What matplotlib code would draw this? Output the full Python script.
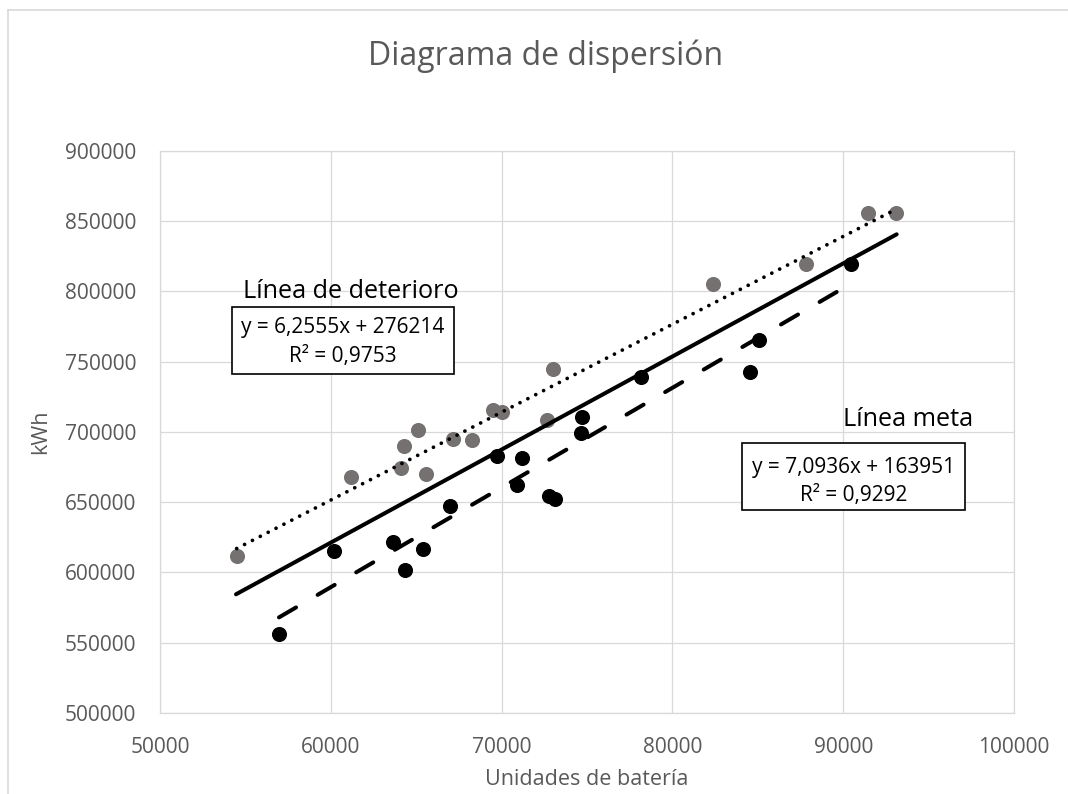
import matplotlib
matplotlib.use("Agg")
import matplotlib.pyplot as plt
from matplotlib.patches import Rectangle
from matplotlib.lines import Line2D
import numpy as np

plt.rcParams['font.family'] = ['Open Sans', 'DejaVu Sans']

# ---- data ----
deterioro_x = [54490, 61165, 64092, 64286, 65123, 65556, 67174, 68249, 69514,
               70006, 72641, 72986, 82358, 87822, 91470, 93091]
deterioro_y = [611700, 668200, 674600, 690200, 701400, 670100, 694800, 694300,
               715700, 714000, 708500, 744600, 805300, 819600, 856100, 855700]

meta_x = [56967, 60205, 63640, 64344, 65400, 66979, 69713, 70884, 71212, 72800,
          73100, 74689, 74649, 78143, 84520, 85050, 90440]
meta_y = [556000, 615600, 621700, 601800, 617000, 647000, 682900, 662100, 681500,
          654500, 652300, 711000, 699000, 739400, 742900, 765200, 819600]

# trendline coefficients (slope, intercept) as printed on the chart
deterioro_coef = [6.2555, 276214]
meta_coef = [7.0936, 163951]
deterioro_label = ["y = 6,2555x + 276214", "R² = 0,9753"]
meta_label = ["y = 7,0936x + 163951", "R² = 0,9292"]

# solid reference line (end points)
ref_x = [54450, 93130]
ref_y = [584500, 840700]

x_ticks = [50000, 60000, 70000, 80000, 90000, 100000]
y_ticks = [500000, 550000, 600000, 650000, 700000, 750000, 800000, 850000, 900000]

W, H = 1068, 794
def fx(x): return x / W
def fy(y): return 1 - y / H

fig = plt.figure(figsize=(W / 100, H / 100), dpi=100)
ax = fig.add_axes([fx(160), fy(713), (1014 - 160) / W, (713 - 151) / H])

gray = '#767171'
grid_c = '#d9d9d9'
txt_c = '#595959'

ax.scatter(deterioro_x, deterioro_y, s=118, color=gray, zorder=3, linewidths=0)
ax.scatter(meta_x, meta_y, s=118, color='black', zorder=3, linewidths=0)

# trendlines
xd = np.array([min(deterioro_x), max(deterioro_x)])
ax.plot(xd, deterioro_coef[0] * xd + deterioro_coef[1], color='black', lw=2.7,
        dashes=(0.01, 2.35), dash_capstyle='round', zorder=4)
xm = np.array([min(meta_x), max(meta_x)])
ax.plot(xm, meta_coef[0] * xm + meta_coef[1], color='black', lw=2.9,
        dashes=(4.9, 6.2), dash_capstyle='round', zorder=4)
ax.plot(ref_x, ref_y, color='black', lw=2.9, solid_capstyle='round', zorder=4)

ax.set_xlim(50000, 100000)
ax.set_ylim(500000, 900000)
ax.set_xticks(x_ticks)
ax.set_yticks(y_ticks)
ax.set_xticklabels([str(t) for t in x_ticks])
ax.set_yticklabels([str(t) for t in y_ticks])
ax.grid(True, color=grid_c, lw=0.9)
ax.set_axisbelow(True)
for s in ax.spines.values():
    s.set_color(grid_c)
    s.set_linewidth(0.9)
ax.tick_params(length=0, pad=17, labelsize=15, labelcolor=txt_c)

ax.set_xlabel("Unidades de batería", fontsize=15.5, color=txt_c, labelpad=8)
ax.set_ylabel("kWh", fontsize=15.5, color=txt_c, labelpad=10)

fig.text(fx(546), fy(65), "Diagrama de dispersión", ha='center', va='baseline',
         fontsize=23, color=txt_c)

# annotations
fig.text(fx(242.7), fy(298), "Línea de deterioro", ha='left', va='baseline',
         fontsize=18.2, color='black')
fig.text(fx(843), fy(426.5), "Línea meta", ha='left', va='baseline',
         fontsize=18.2, color='black')

def eq_box(x0, y0, x1, y1, lines, c1, c2):
    fig.add_artist(Rectangle((fx(x0), fy(y1)), (x1 - x0) / W, (y1 - y0) / H,
                             transform=fig.transFigure, facecolor='white',
                             edgecolor='black', lw=1.2, zorder=5))
    cx = fx((x0 + x1) / 2)
    fig.text(cx, fy(c1), lines[0], ha='center', va='center', fontsize=15,
             color='black', zorder=6)
    fig.text(cx, fy(c2), lines[1], ha='center', va='center', fontsize=15,
             color='black', zorder=6)

eq_box(231.7, 307.3, 454, 374, deterioro_label, 327.5, 356.7)
eq_box(741.7, 443.3, 965, 510, meta_label, 467.5, 495.8)

# outer chart border
fig.add_artist(Line2D([fx(7.5), fx(1068)], [fy(9.5), fy(9.5)],
                      transform=fig.transFigure, color=grid_c, lw=1.2))
fig.add_artist(Line2D([fx(7.5), fx(7.5)], [fy(9.5), fy(794)],
                      transform=fig.transFigure, color=grid_c, lw=1.2))

fig.savefig("out.png", dpi=100)
